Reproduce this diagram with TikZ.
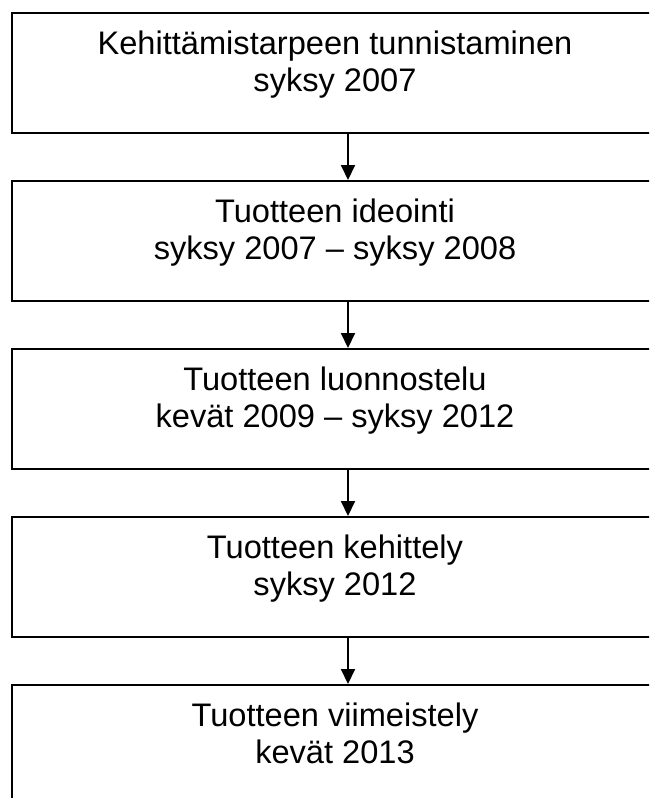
\documentclass[tikz,border=0pt]{standalone}
\usepackage{fontspec}
\setmainfont{Liberation Sans}
\usetikzlibrary{arrows.meta}
% two-line caption set at the top of a fixed-height phase box,
% its column a little left of the box centre
\newcommand\phasetext[2]{\parbox[t][120pt][t]{646pt}{\centering\fontsize{32.6}{37}\selectfont\rule{0pt}{41pt}#1\\#2}\hspace*{26pt}}
\begin{document}
\begin{tikzpicture}[x=1pt,y=-1pt,
  phase/.style={draw=black, line width=2pt, inner sep=0pt, minimum width=672pt, anchor=north},
  flow/.style={draw=black, line width=2pt, -{Triangle[width=14pt,length=15pt]}}
]
\clip (0,0) rectangle (649,798);
\node[phase] (p1) at (348,12)  {\phasetext{Kehittämistarpeen tunnistaminen}{syksy 2007}};
\node[phase] (p2) at (348,180) {\phasetext{Tuotteen ideointi}{syksy 2007 – syksy 2008}};
\node[phase] (p3) at (348,348) {\phasetext{Tuotteen luonnostelu}{kevät 2009 – syksy 2012}};
\node[phase] (p4) at (348,516) {\phasetext{Tuotteen kehittely}{syksy 2012}};
\node[phase] (p5) at (348,684) {\phasetext{Tuotteen viimeistely}{kevät 2013}};
\draw[flow] (p1.south) -- (p2.north);
\draw[flow] (p2.south) -- (p3.north);
\draw[flow] (p3.south) -- (p4.north);
\draw[flow] (p4.south) -- (p5.north);
\end{tikzpicture}
\end{document}
